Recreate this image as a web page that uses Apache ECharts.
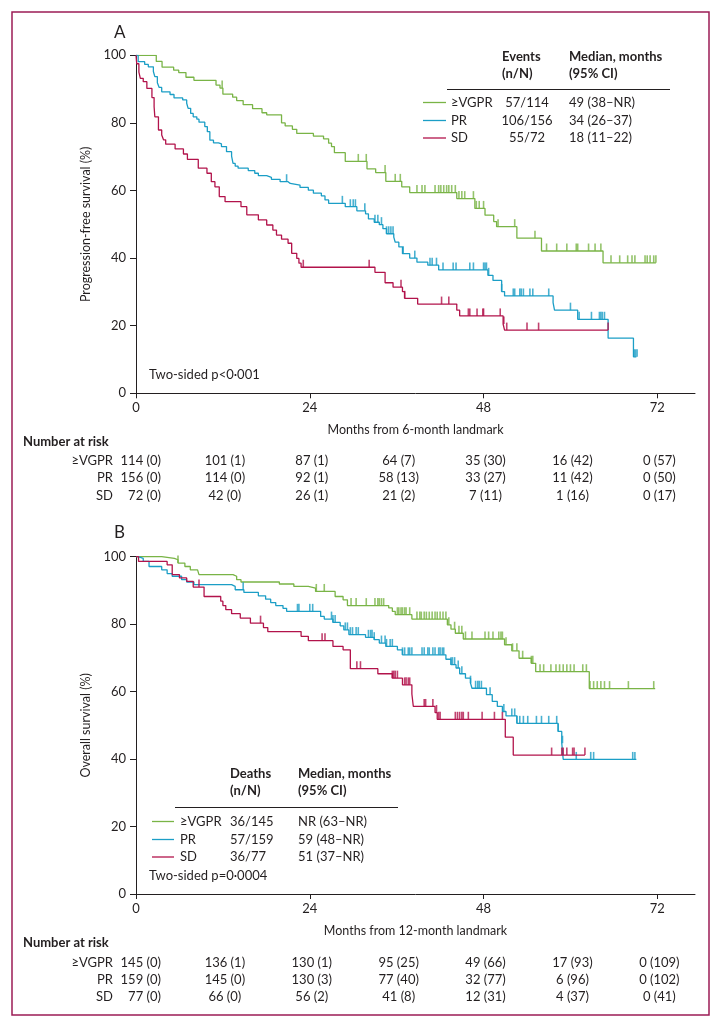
<!DOCTYPE html>
<html><head><meta charset="utf-8">
<script src="https://cdn.jsdelivr.net/npm/echarts/dist/echarts.min.js"></script>
<style>html,body{margin:0;padding:0;background:#fff}#c{width:722px;height:1023px}</style>
</head><body><div id="c"></div>
<script>
// ---------- DATA ----------
const groups = ['≥VGPR', 'PR', 'SD'];
const xTicks = [0, 24, 48, 72];
const yTicks = [0, 20, 40, 60, 80, 100];
const riskMonths = [0, 12, 24, 36, 48, 60, 72];

// Panel A: progression-free survival, step points [month, %]
const pfsVgpr = [[0,100],[2.8,98.2],[3.6,96.5],[5.2,95.6],[5.9,94.9],[6.9,93.5],[8.0,92.6],[11.05,91.2],[11.6,90.3],[12.0,88.5],[13.35,87.6],[13.9,86.6],[14.8,85.4],[16.1,84.2],[17.4,83.0],[18.05,82.4],[20.1,80.0],[20.6,79.1],[21.6,78.1],[22.2,76.9],[24.5,76.1],[25.9,75.3],[26.6,74.0],[27.0,73.0],[27.4,71.2],[28.9,68.6],[31.9,66.4],[33.1,65.3],[34.5,62.7],[36.7,61.1],[37.8,59.4],[44.3,57.6],[46.8,54.7],[48.2,52.7],[49.4,50.8],[49.8,49.3],[52.6,45.9],[56.0,42.1],[64.5,38.6],[71.8,38.6]];
const pfsPr = [[0,100],[0.3,98.1],[1.2,97.3],[1.7,96.6],[2.4,95.2],[2.6,93.7],[2.95,91.9],[3.2,90.5],[3.55,89.2],[4.7,88.4],[5.25,87.4],[6.45,86.8],[7.0,85.8],[7.2,84.3],[7.55,82.8],[7.9,81.8],[8.4,81.1],[8.7,80.2],[9.5,78.9],[9.85,77.4],[10.2,74.9],[10.7,74.1],[11.4,73.8],[11.8,73.0],[12.5,71.5],[13.2,70.2],[13.4,68.0],[13.7,67.2],[14.1,66.6],[15.5,65.9],[16.4,65.1],[16.9,64.4],[18.05,63.9],[18.7,63.3],[19.9,62.6],[21.0,62.1],[21.3,61.6],[22.65,60.9],[23.8,60.1],[24.5,59.2],[25.6,58.4],[26.1,57.2],[26.6,56.2],[28.9,55.2],[30.5,54.0],[31.7,53.1],[32.1,51.6],[32.9,50.6],[33.6,49.9],[34.1,48.7],[34.6,47.2],[35.6,46.2],[35.8,44.7],[36.3,43.3],[36.8,41.3],[37.8,40.0],[38.8,38.8],[40.3,37.9],[41.8,36.5],[48.6,34.9],[49.3,33.4],[50.5,30.1],[50.9,28.8],[57.6,26.8],[57.8,24.6],[61.0,21.9],[65.2,16.3],[68.7,10.8],[69.1,10.8]];
const pfsSd = [[0,100],[0.1,97.5],[0.4,95.0],[0.6,93.2],[1.0,92.2],[1.5,90.2],[2.2,87.5],[2.5,84.8],[2.6,81.8],[3.1,77.9],[3.55,76.4],[3.8,75.0],[4.1,73.7],[5.4,72.3],[6.55,70.8],[7.1,69.2],[8.6,66.6],[9.8,65.1],[10.4,62.6],[10.9,61.1],[11.5,58.2],[12.3,56.7],[14.5,55.2],[15.3,52.8],[16.9,51.3],[18.05,49.8],[18.9,48.3],[19.4,46.8],[20.1,45.6],[21.0,44.4],[21.5,41.4],[22.2,39.9],[22.5,38.5],[22.8,37.3],[33.0,35.8],[34.4,32.7],[35.5,31.4],[36.8,30.1],[37.1,28.1],[38.9,26.4],[44.3,24.6],[44.7,22.9],[50.7,20.5],[50.9,18.7],[65.2,18.7]];
// censoring marks (months)
const pfsVgprCens = [11.9,30.7,31.8,34.4,35.8,36.5,38.8,39.5,39.9,41.3,41.8,42.1,42.5,42.9,43.2,43.6,44.1,44.6,45.0,45.4,46.6,47.0,47.4,48.0,50.0,52.3,55.1,56.7,58.1,59.5,60.8,61.0,62.5,63.4,64.2,65.6,66.8,67.9,68.5,68.9,70.3,70.6,71.0,71.5,71.8];
const pfsPrCens = [20.8,28.5,29.6,30.0,30.3,31.6,33.0,33.4,33.9,34.6,34.9,35.2,35.5,36.9,38.5,40.6,40.9,41.5,42.4,43.8,44.2,46.1,46.6,48.0,48.2,48.4,48.7,50.5,52.1,52.3,53.0,53.2,53.5,54.4,54.8,57.0,60.0,61.2,62.9,64.0,64.2,64.4,64.7,68.8,69.0,69.2];
const pfsSdCens = [23.1,32.2,36.6,37.1,42.2,43.2,45.9,46.1,47.1,47.9,48.0,50.3,50.8,51.2,54.0,55.6,65.2];

// Panel B: overall survival
const osVgpr = [[0,100],[3.55,99.5],[5.3,99.1],[5.8,98.1],[6.75,97.1],[7.5,96.1],[8.5,95.6],[8.7,94.7],[13.4,94.2],[13.9,93.2],[14.5,92.5],[19.8,91.9],[21.8,91.2],[23.8,90.7],[24.8,89.7],[27.5,88.2],[28.6,87.2],[29.2,85.5],[34.9,84.8],[35.4,83.8],[35.8,82.8],[38.1,81.5],[43.0,79.8],[43.5,78.5],[44.1,77.3],[45.2,75.6],[50.9,73.9],[51.9,72.1],[52.9,69.9],[54.6,68.4],[55.2,65.9],[62.6,60.9],[71.7,60.9]];
const osPr = [[0,100],[0.3,99.5],[1.0,98.6],[1.8,97.1],[3.55,96.1],[4.3,95.0],[5.0,94.2],[6.3,93.2],[7.0,92.5],[8.0,91.7],[13.2,91.2],[13.7,90.2],[14.9,89.4],[16.9,88.4],[17.9,87.4],[18.6,86.4],[19.3,85.5],[20.3,84.7],[20.8,83.8],[25.5,82.3],[26.0,81.5],[27.2,80.5],[28.2,79.5],[28.7,78.3],[29.4,76.9],[31.7,76.1],[32.9,75.4],[33.6,74.4],[34.5,73.4],[36.1,72.4],[36.8,70.9],[42.8,69.6],[43.5,68.0],[44.2,67.0],[44.7,65.3],[45.5,64.0],[46.2,62.5],[46.4,61.0],[48.4,59.1],[49.2,57.1],[49.9,55.6],[50.6,54.1],[51.1,52.8],[52.6,50.6],[58.3,48.2],[58.8,44.7],[59.0,39.9],[69.1,39.9]];
const osSd = [[0,100],[0.35,98.6],[4.3,97.6],[5.0,94.7],[6.0,93.7],[7.0,92.7],[7.9,91.0],[9.4,88.2],[11.7,86.8],[12.0,85.5],[12.4,84.3],[13.2,83.1],[14.4,81.8],[15.8,80.3],[17.6,79.0],[18.2,77.8],[22.8,76.4],[23.8,75.1],[27.2,73.4],[28.6,72.4],[29.6,66.8],[33.4,65.3],[35.4,64.0],[36.8,62.0],[38.1,59.3],[38.3,55.6],[41.3,53.8],[41.6,51.8],[51.0,46.5],[52.1,41.2],[62.0,41.2]];
const osVgprCens = [5.8,24.9,26.0,29.7,30.4,31.8,33.0,33.4,33.6,33.9,34.2,36.1,36.3,36.6,36.8,37.1,37.3,37.8,38.8,39.2,39.4,39.8,40.1,40.5,40.9,41.3,41.6,42.0,42.4,42.8,43.2,44.0,44.6,45.0,45.5,46.4,48.2,48.7,49.3,50.1,50.4,50.6,51.1,52.0,52.6,53.4,54.6,54.8,55.8,56.3,57.3,58.0,58.5,59.0,59.5,60.0,60.5,61.7,62.2,62.7,63.2,63.7,64.2,64.7,65.4,68.0,71.5];
const osPrCens = [14.8,22.3,22.5,24.0,24.4,27.0,27.2,27.5,28.9,29.2,29.6,29.9,30.4,30.7,32.1,32.4,32.6,32.9,33.9,34.4,34.6,35.1,35.4,36.8,37.1,37.6,37.8,38.1,39.5,39.8,40.3,40.5,41.0,41.3,41.8,42.0,42.3,42.5,43.5,43.7,44.0,44.5,45.0,46.2,46.9,47.2,47.4,47.7,48.9,50.8,51.9,52.3,52.6,53.0,53.5,54.1,55.3,56.0,57.0,58.1,58.3,58.9,60.8,62.8,63.2,68.6,68.9];
const osSdCens = [8.7,17.2,25.7,26.1,30.5,31.0,35.4,35.6,35.8,36.1,37.1,37.3,37.6,37.8,39.8,40.0,41.0,41.5,41.8,42.0,44.1,44.4,44.7,45.0,45.2,45.9,47.8,49.5,50.6,57.4,58.8,59.0,59.5,60.3,60.5,62.0];

// Number at risk (censored)
const pfsRiskVgpr = [114,101,87,64,35,16,0], pfsCensVgpr = [0,1,1,7,30,42,57];
const pfsRiskPr   = [156,114,92,58,33,11,0], pfsCensPr   = [0,0,1,13,27,42,50];
const pfsRiskSd   = [72,42,26,21,7,1,0],     pfsCensSd   = [0,0,1,2,11,16,17];
const osRiskVgpr  = [145,136,130,95,49,17,0], osCensVgpr = [0,1,1,25,66,93,109];
const osRiskPr    = [159,145,130,77,32,6,0],  osCensPr   = [0,0,3,40,77,96,102];
const osRiskSd    = [77,66,56,41,12,4,0],     osCensSd   = [0,0,2,8,31,37,41];

// Legend tables
const pfsEvents = ['57/114', '106/156', '55/72'];
const pfsMedian = ['49 (38–NR)', '34 (26–37)', '18 (11–22)'];
const osDeaths  = ['36/145', '57/159', '36/77'];
const osMedian  = ['NR (63–NR)', '59 (48–NR)', '51 (37–NR)'];

// ---------- STYLE ----------
const FONT = 'Lato';
const TXT = '#231f20';
const COLORS = ['#79b446', '#1b9ec6', '#b2134b'];
const FRAME = '#9c1c55';
const XMAX = 77.2;

function survAt(steps, t) {
  let s = steps[0][1];
  for (const p of steps) { if (p[0] <= t + 1e-9) s = p[1]; else break; }
  return s;
}

const chart = echarts.init(document.getElementById('c'));

const axisTxt = { color: TXT, fontFamily: FONT, fontSize: 13 };
function xAxis(i, name) {
  return {
    gridIndex: i, type: 'value', min: 0, max: XMAX, interval: 24,
    name: name, nameLocation: 'middle', nameGap: 30,
    nameTextStyle: { color: TXT, fontFamily: FONT, fontSize: 12.5 },
    axisLine: { lineStyle: { color: TXT, width: 1 } },
    axisTick: { length: 5, customValues: xTicks, lineStyle: { color: TXT, width: 1 } },
    axisLabel: Object.assign({ customValues: xTicks, margin: 8,
      formatter: v => (xTicks.indexOf(v) >= 0 ? String(v) : '') }, axisTxt),
    splitLine: { show: false }
  };
}
function yAxis(i, name) {
  return {
    gridIndex: i, type: 'value', min: 0, max: 100, interval: 20,
    name: name, nameLocation: 'middle', nameGap: 41,
    nameTextStyle: { color: TXT, fontFamily: FONT, fontSize: 12.5 },
    axisLine: { show: true, lineStyle: { color: TXT, width: 1 } },
    axisTick: { show: true, length: 6, lineStyle: { color: TXT, width: 1 } },
    axisLabel: Object.assign({ margin: 10 }, axisTxt),
    splitLine: { show: false }
  };
}

const panels = [
  { steps: [pfsVgpr, pfsPr, pfsSd], cens: [pfsVgprCens, pfsPrCens, pfsSdCens] },
  { steps: [osVgpr, osPr, osSd], cens: [osVgprCens, osPrCens, osSdCens] }
];
const series = [];
panels.forEach((p, pi) => {
  p.steps.forEach((st, gi) => {
    series.push({
      type: 'line', xAxisIndex: pi, yAxisIndex: pi, step: 'end', data: st,
      showSymbol: false, symbol: 'none', silent: true,
      lineStyle: { color: COLORS[gi], width: 1.3 }, z: 3 + gi
    });
    series.push({
      type: 'scatter', xAxisIndex: pi, yAxisIndex: pi,
      data: p.cens[gi].map(t => [t, survAt(st, t)]),
      symbol: 'rect', symbolSize: [1.6, 7.5], symbolOffset: [0, '-50%'],
      itemStyle: { color: COLORS[gi] }, silent: true, z: 3 + gi
    });
  });
});

chart.setOption({
  animation: false,
  grid: [
    { left: 136, top: 55.3, width: 559, height: 338 },
    { left: 136, top: 556.7, width: 559, height: 337.3 }
  ],
  xAxis: [xAxis(0, 'Months from 6-month landmark'), xAxis(1, 'Months from 12-month landmark')],
  yAxis: [yAxis(0, 'Progression-free survival (%)'), yAxis(1, 'Overall survival (%)')],
  series: series
});

// ---------- annotations ----------
const g = [];
function txt(x, y, s, opt) {
  opt = opt || {};
  g.push({ type: 'text', x: x, y: y, silent: true, z: 20, style: {
    text: s, fill: TXT, fontFamily: FONT, fontSize: opt.size || 13,
    fontWeight: opt.bold ? 'bold' : 'normal', align: opt.align || 'left', verticalAlign: 'middle' } });
}
function hline(x1, x2, y, color, w) {
  g.push({ type: 'line', silent: true, z: 20, shape: { x1: x1, y1: y, x2: x2, y2: y },
    style: { stroke: color, lineWidth: w || 1 } });
}
g.push({ type: 'rect', silent: true, z: 0, shape: { x: 12, y: 12, width: 697, height: 1003 },
  style: { fill: 'none', stroke: FRAME, lineWidth: 1.5 } });

txt(114, 33, 'A', { size: 17 });
txt(114, 533, 'B', { size: 17 });

// legend A
txt(502, 57, 'Events', { bold: true });
txt(502, 74, '(n/N)', { bold: true });
txt(569, 57, 'Median, months', { bold: true });
txt(569, 74, '(95% CI)', { bold: true });
hline(447, 670, 89.5, TXT, 1);
[102.5, 120.5, 138].forEach((y, i) => {
  hline(423, 446, y, COLORS[i], 1.3);
  txt(451, y, groups[i]);
  txt(527, y, pfsEvents[i], { align: 'center' });
  txt(569, y, pfsMedian[i]);
});
txt(149, 375, 'Two-sided p<0·001');

// legend B
txt(230, 774, 'Deaths', { bold: true });
txt(230, 791, '(n/N)', { bold: true });
txt(298, 774, 'Median, months', { bold: true });
txt(298, 791, '(95% CI)', { bold: true });
hline(175, 398, 807.5, TXT, 1);
[821.5, 839.5, 857].forEach((y, i) => {
  hline(152, 174, y, COLORS[i], 1.3);
  txt(180, y, groups[i]);
  txt(230, y, osDeaths[i]);
  txt(298, y, osMedian[i]);
});
txt(149, 876, 'Two-sided p=0·0004');

// number at risk tables
const riskTables = [
  { top: 441.5, rows: [[pfsRiskVgpr, pfsCensVgpr], [pfsRiskPr, pfsCensPr], [pfsRiskSd, pfsCensSd]] },
  { top: 943, rows: [[osRiskVgpr, osCensVgpr], [osRiskPr, osCensPr], [osRiskSd, osCensSd]] }
];
riskTables.forEach((tb, ti) => {
  txt(23, tb.top, 'Number at risk', { bold: true });
  tb.rows.forEach((r, ri) => {
    const y = tb.top + 19.5 + ri * 17.3;
    txt(113, y, groups[ri], { align: 'right' });
    riskMonths.forEach((m, k) => {
      const px = chart.convertToPixel({ xAxisIndex: ti }, m);
      const s = r[0][k] + ' (' + r[1][k] + ')';
      if (k === 0) txt(px + 25, y, s, { align: 'right' });
      else txt(px + 2, y, s, { align: 'center' });
    });
  });
});

chart.setOption({ graphic: g });
</script>
</body></html>
